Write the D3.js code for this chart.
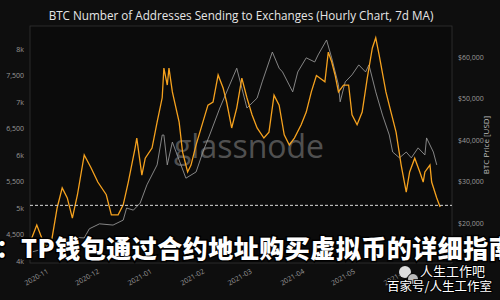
<!DOCTYPE html>
<html>
<head>
<meta charset="utf-8">
<script src="https://cdn.jsdelivr.net/npm/d3@7"></script>
<style>
  html, body { margin: 0; padding: 0; background: #0e0e0e; }
  svg { display: block; }
  .axis text { fill: #9a9a9a; font-family: "Open Sans", sans-serif; font-size: 7px; }
  .axis path, .axis line { display: none; }
</style>
</head>
<body>
<svg width="500" height="300"></svg>
<script>
// addresses sending to exchanges (7d MA)
const addrDates = ["2020-10-24","2020-10-27","2020-10-30","2020-11-02","2020-11-05","2020-11-08","2020-11-11","2020-11-14","2020-11-17","2020-11-20","2020-11-24","2020-11-28","2020-12-02","2020-12-07","2020-12-10","2020-12-14","2020-12-17","2020-12-20","2020-12-24","2020-12-25","2020-12-28","2020-12-30","2021-01-03","2021-01-06","2021-01-09","2021-01-10","2021-01-12","2021-01-13","2021-01-15","2021-01-19","2021-01-21","2021-01-24","2021-01-26","2021-01-29","2021-02-02","2021-02-05","2021-02-08","2021-02-11","2021-02-14","2021-02-16","2021-02-19","2021-02-22","2021-02-25","2021-02-28","2021-03-03","2021-03-06","2021-03-10","2021-03-13","2021-03-16","2021-03-19","2021-03-22","2021-03-25","2021-03-28","2021-04-01","2021-04-04","2021-04-07","2021-04-10","2021-04-15","2021-04-17","2021-04-19","2021-04-21","2021-04-23","2021-04-26","2021-04-29","2021-05-01","2021-05-04","2021-05-07","2021-05-10","2021-05-13","2021-05-15","2021-05-17","2021-05-21","2021-05-24","2021-05-27","2021-05-30","2021-06-02","2021-06-04","2021-06-07","2021-06-10","2021-06-12","2021-06-13","2021-06-16","2021-06-17","2021-06-20","2021-06-22"]
const addrValues = [4430,4680,4430,4250,4430,5000,5380,5190,4810,5250,6000,5760,5490,5250,4870,4870,5060,5490,6130,6320,5620,5940,6130,6620,7080,7640,7320,7640,7190,6620,6060,5680,5810,6190,6620,6940,7000,7510,7260,7000,6510,6890,7450,7080,6760,6510,6320,6430,7130,6940,6380,6190,6320,6570,6810,7190,7500,7380,7940,7760,7510,7190,7320,7320,6760,6570,6810,7450,8020,8210,7890,7190,6810,6430,5810,5300,5680,5940,5680,5490,5680,5810,5490,5190,5020]

// BTC price in USD
const priceDates = ["2020-10-24","2020-10-31","2020-11-07","2020-11-14","2020-11-20","2020-11-24","2020-11-27","2020-12-03","2020-12-11","2020-12-17","2020-12-19","2020-12-23","2020-12-27","2020-12-31","2021-01-06","2021-01-09","2021-01-10","2021-01-12","2021-01-15","2021-01-23","2021-01-29","2021-02-02","2021-02-06","2021-02-12","2021-02-22","2021-02-25","2021-02-28","2021-03-06","2021-03-09","2021-03-15","2021-03-19","2021-03-21","2021-03-27","2021-03-30","2021-04-04","2021-04-09","2021-04-11","2021-04-16","2021-04-19","2021-04-23","2021-04-24","2021-04-27","2021-05-01","2021-05-05","2021-05-09","2021-05-11","2021-05-15","2021-05-19","2021-05-23","2021-05-25","2021-05-29","2021-06-02","2021-06-05","2021-06-09","2021-06-13","2021-06-14","2021-06-18","2021-06-20"]
const priceValues = [13000,13800,15200,15900,16500,16400,18600,19800,19500,20700,23600,23100,24800,29200,34000,41200,41200,34000,39500,30800,32300,37100,41200,47700,57300,52500,47700,50100,54000,61200,57300,56400,51600,56400,59800,58800,60500,64100,59800,53300,49200,54000,55700,58100,56400,58100,51600,46000,41200,37100,35700,37100,35700,38100,36400,40500,37100,34000]

const addrTicks = [4000,4500,5000,5500,6000,6500,7000,7500,8000]
const addrTickLabels = ["4k","4,500","5k","5,500","6k","6,500","7k","7,500","8k"]
const priceTicks = [20000,30000,40000,50000,60000]
const monthTicks = ["2020-11-01","2020-12-01","2021-01-01","2021-02-01","2021-03-01","2021-04-01","2021-05-01","2021-06-01"]
const refLevel = 5050 // dashed level line

const parse = d3.timeParse("%Y-%m-%d")
const addrData = addrDates.map((d, i) => ({ date: parse(d), v: addrValues[i] }))
const priceData = priceDates.map((d, i) => ({ date: parse(d), v: priceValues[i] }))

const svg = d3.select("svg")

// plot frame
const plotLeft = 30, plotRight = 452, plotTop = 26, plotBottom = 263

const x = d3.scaleTime()
  .domain([parse("2020-10-23"), parse("2021-06-29")])
  .range([plotLeft, plotRight])

const yAddr = d3.scaleLinear()
  .domain([4000, 8000])
  .range([261, 49])

const yPrice = d3.scaleLinear()
  .domain([20000, 60000])
  .range([223, 57])

svg.append("rect")
  .attr("x", plotLeft).attr("y", plotTop)
  .attr("width", plotRight - plotLeft).attr("height", plotBottom - plotTop)
  .attr("fill", "#0b0b0b")
  .attr("stroke", "#333")
  .attr("stroke-width", 0.8)

// title
svg.append("text")
  .attr("x", 241).attr("y", 20)
  .attr("text-anchor", "middle")
  .attr("fill", "#e6e6e6")
  .style("font-family", "'Open Sans', sans-serif")
  .style("font-size", "11.7px")
  .text("BTC Number of Addresses Sending to Exchanges (Hourly Chart, 7d MA)")

// watermark
svg.append("text")
  .attr("x", 249).attr("y", 158)
  .attr("text-anchor", "middle")
  .attr("fill", "#626262")
  .attr("opacity", 0.8)
  .style("font-family", "'Open Sans', sans-serif")
  .style("font-size", "32px")
  .text("glassnode")

// axes
svg.append("g")
  .attr("class", "axis")
  .attr("transform", `translate(${plotLeft - 3},0)`)
  .call(d3.axisLeft(yAddr).tickValues(addrTicks).tickSize(0)
    .tickFormat((d, i) => addrTickLabels[i]))

svg.append("g")
  .attr("class", "axis")
  .attr("transform", `translate(${plotRight + 3},0)`)
  .call(d3.axisRight(yPrice).tickValues(priceTicks).tickSize(0)
    .tickFormat(d => "$" + d3.format(",")(d)))

svg.append("g")
  .attr("class", "axis")
  .attr("transform", `translate(0,${plotBottom + 4})`)
  .call(d3.axisBottom(x).tickValues(monthTicks.map(parse)).tickSize(0)
    .tickFormat(d3.timeFormat("%Y-%m")))
  .selectAll("text")
  .attr("text-anchor", "end")
  .attr("dx", 0).attr("dy", "0.5em")
  .attr("transform", "rotate(-30)")

svg.append("text")
  .attr("transform", "translate(489,145) rotate(-90)")
  .attr("text-anchor", "middle")
  .attr("fill", "#bbb")
  .style("font-family", "'Open Sans', sans-serif")
  .style("font-size", "8px")
  .text("BTC Price [USD]")

// price line (grey)
const priceLine = d3.line()
  .x(d => x(d.date))
  .y(d => yPrice(d.v))

svg.append("path")
  .datum(priceData)
  .attr("d", priceLine)
  .attr("fill", "none")
  .attr("stroke", "#9a9a9a")
  .attr("stroke-width", 1)
  .attr("opacity", 0.85)

// addresses line (orange)
const addrLine = d3.line()
  .x(d => x(d.date))
  .y(d => yAddr(d.v))

svg.append("path")
  .datum(addrData)
  .attr("d", addrLine)
  .attr("fill", "none")
  .attr("stroke", "#f6a21e")
  .attr("stroke-width", 1.3)

// dashed level
svg.append("line")
  .attr("x1", plotLeft).attr("x2", plotRight)
  .attr("y1", yAddr(refLevel)).attr("y2", yAddr(refLevel))
  .attr("stroke", "#d8d8d8")
  .attr("stroke-width", 1)
  .attr("stroke-dasharray", "3,2")

// overlay caption
const capStyle = sel => sel
  .attr("fill", "#fff")
  .attr("stroke", "#000")
  .attr("stroke-width", 3)
  .attr("paint-order", "stroke")
  .style("font-family", "'Noto Sans CJK SC', sans-serif")
  .style("font-weight", 900)
  .style("font-size", "24px")

svg.append("text")
  .attr("x", -4).attr("y", 257)
  .call(capStyle)
  .text("：")

svg.append("text")
  .attr("x", 21).attr("y", 258)
  .call(capStyle)
  .style("font-size", "25px")
  .style("letter-spacing", "0.5px")
  .text("TP钱包通过合约地址购买虚拟币的详细指南")

// bottom-right watermark
const wm = svg.append("g")
wm.append("circle").attr("cx", 405).attr("cy", 272).attr("r", 6).attr("fill", "#ddd")
wm.append("circle").attr("cx", 413).attr("cy", 279).attr("r", 5.5).attr("fill", "#bbb").attr("stroke", "#000").attr("stroke-width", 1)
wm.append("text")
  .attr("x", 420).attr("y", 276)
  .attr("fill", "#fff")
  .attr("stroke", "#000").attr("stroke-width", 2).attr("paint-order", "stroke")
  .style("font-family", "'Noto Sans CJK SC', sans-serif")
  .style("font-size", "13px")
  .text("人生工作吧")
wm.append("text")
  .attr("x", 387).attr("y", 291)
  .attr("fill", "#fff")
  .attr("stroke", "#000").attr("stroke-width", 2).attr("paint-order", "stroke")
  .style("font-family", "'Noto Sans CJK SC', sans-serif")
  .style("font-size", "12.5px")
  .text("百家号/人生工作室")
</script>
</body>
</html>
